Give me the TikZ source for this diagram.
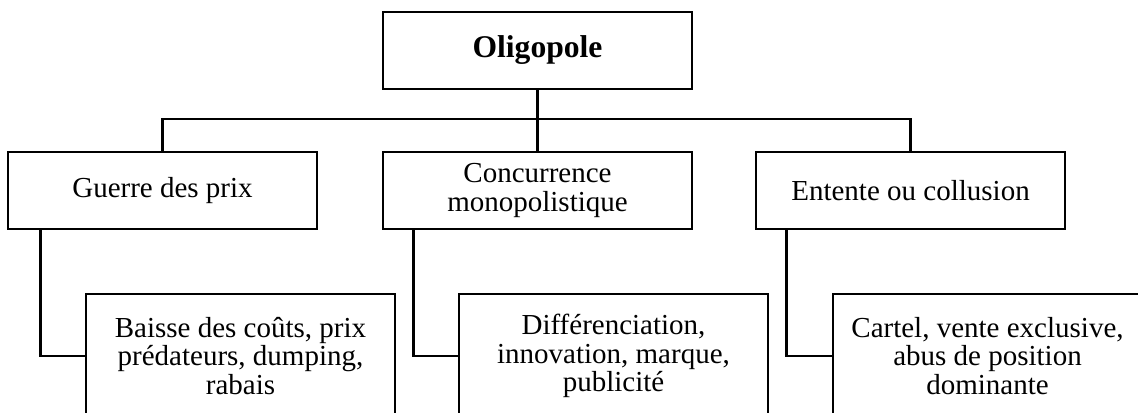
\documentclass[tikz,border=0pt]{standalone}
\usepackage{fontspec}
\setmainfont{Liberation Serif}
\begin{document}
\begin{tikzpicture}[x=0.5pt,y=-0.5pt,line width=1.3pt,
  box/.style={draw,align=center,inner sep=0pt,minimum width=154.5pt,minimum height=38.5pt,
    font=\fontsize{14.5}{14.25}\selectfont},
  lowbox/.style={box,minimum height=62pt}]
  \useasboundingbox (0,0) rectangle (1138,412);
  \clip (0,0) rectangle (1138,412);
  \node[box,font=\fontsize{15.8}{16}\selectfont\bfseries] (oligo) at (537.5,50.5) {Oligopole};
  \node[box] (guerre) at (162.5,190.5) {Guerre des prix};
  \node[box] (concur) at (537.5,190.5) {Concurrence\\monopolistique};
  \node[box] (entente) at (910.5,190.5) {Entente ou collusion};
  \node[lowbox] (baisse) at (240.5,356) {Baisse des coûts, prix\\prédateurs, dumping,\\rabais};
  \node[lowbox] (diff) at (613.5,356) {Différenciation,\\innovation, marque,\\publicité};
  \node[lowbox] (cartel) at (987.5,356) {Cartel, vente exclusive,\\abus de position\\dominante};
  \coordinate (bar) at (537.5,119);
  \draw (oligo.south) -- (concur.north);
  \draw (guerre.north) |- (bar) -| (entente.north);
  \draw ([xshift=-61pt]guerre.south) |- (baisse.west);
  \draw ([xshift=-62pt]concur.south) |- (diff.west);
  \draw ([xshift=-62pt]entente.south) |- (cartel.west);
\end{tikzpicture}
\end{document}
